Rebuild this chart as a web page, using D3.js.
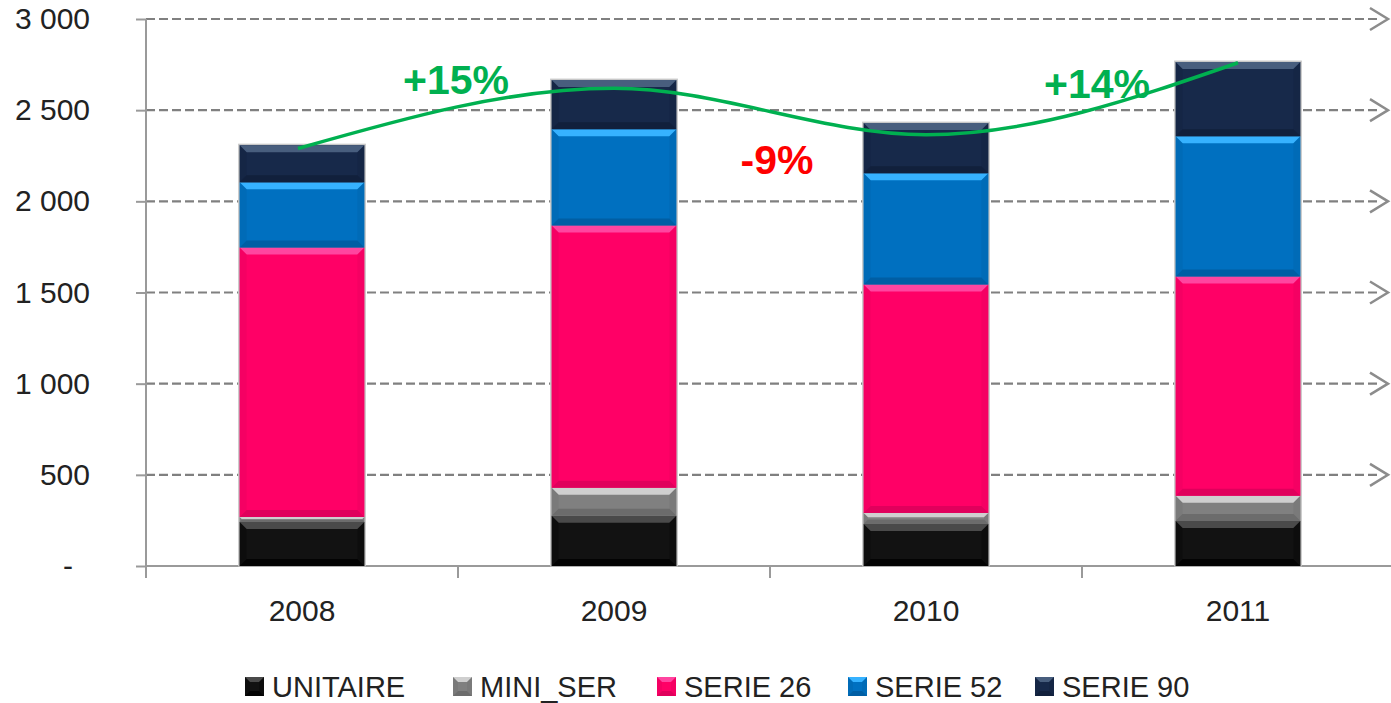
<!DOCTYPE html>
<html>
<head>
<meta charset="utf-8">
<script src="https://cdn.jsdelivr.net/npm/d3@7"></script>
<style>
  html, body { margin: 0; padding: 0; background: #fff; }
  svg { display: block; }
</style>
</head>
<body>
<svg id="chart" width="1391" height="703"></svg>
<script>
// ---- Data ----
const categories = ["2008", "2009", "2010", "2011"];
const seriesNames = ["UNITAIRE", "MINI_SER", "SERIE 26", "SERIE 52", "SERIE 90"];
const unitaire = [242, 275, 231, 247];
const miniSer  = [27, 154, 60, 138];
const serie26  = [1478, 1439, 1253, 1203];
const serie52  = [357, 528, 610, 769];
const serie90  = [204, 269, 275, 407];
const trend    = [2290, 2620, 2365, 2760];
const yTicks   = [0, 500, 1000, 1500, 2000, 2500, 3000];
const growthLabels = ["+15%", "-9%", "+14%"];
const growthLevels = [2590, 2150, 2565];

// ---- Styles ----
const colors = {
  "UNITAIRE": {main: "#121212", light: "#4a4a4a", dark: "#000000"},
  "MINI_SER": {main: "#808080", light: "#cfcfcf", dark: "#666666"},
  "SERIE 26": {main: "#ff0066", light: "#ff45a0", dark: "#d8005a"},
  "SERIE 52": {main: "#0070c0", light: "#36b2ff", dark: "#005a9c"},
  "SERIE 90": {main: "#17294a", light: "#485e7e", dark: "#101e38"}
};

const svg = d3.select("#chart");
const W = 1391, H = 703;

const x = d3.scaleBand().domain(categories).range([146, 1394]).paddingInner(0.6).paddingOuter(0.3);
const xStep = x.step();
const y = d3.scaleLinear().domain([0, 3000]).range([566, 19]);

const rows = categories.map((c, i) => ({
  cat: c,
  "UNITAIRE": unitaire[i], "MINI_SER": miniSer[i], "SERIE 26": serie26[i],
  "SERIE 52": serie52[i], "SERIE 90": serie90[i]
}));
const stacked = d3.stack().keys(seriesNames)(rows);

// ---- Gridlines (dashed with chevron) ----
const gridG = svg.append("g");
const gridEnd = 1378;
yTicks.filter(d => d > 0).forEach(t => {
  const yy = y(t);
  gridG.append("line")
    .attr("x1", x.range()[0]).attr("x2", gridEnd)
    .attr("y1", yy).attr("y2", yy)
    .attr("stroke", "#808080").attr("stroke-width", 2.2)
    .attr("stroke-dasharray", "9,4");
  gridG.append("path")
    .attr("d", `M${gridEnd - 8},${yy - 11} L${gridEnd + 10},${yy} L${gridEnd - 8},${yy + 11}`)
    .attr("fill", "none").attr("stroke", "#8c8c8c").attr("stroke-width", 2.5);
});

// ---- Axes ----
const yAxis = d3.axisLeft(y).tickValues(yTicks).tickSize(10).tickPadding(0)
  .tickFormat(d => d === 0 ? "-" : d3.format(",")(d).replace(/,/g, " "));
const yAx = svg.append("g").attr("transform", `translate(${x.range()[0]},0)`).call(yAxis);
yAx.select(".domain").attr("stroke", "#9a9a9a").attr("stroke-width", 2)
  .attr("d", `M0,${y(3000)}V${y(0)}`);
yAx.selectAll(".tick line").attr("stroke", "#9a9a9a").attr("stroke-width", 2);
yAx.selectAll(".tick text")
  .attr("x", d => d === 0 ? -73 : -56)
  .attr("font-family", "Liberation Sans, Arial, sans-serif")
  .attr("font-size", 30).attr("fill", "#222");

// x axis line
svg.append("line").attr("x1", x.range()[0]).attr("x2", W)
  .attr("y1", y(0)).attr("y2", y(0))
  .attr("stroke", "#9a9a9a").attr("stroke-width", 2);
// x ticks at band boundaries
categories.forEach((c, i) => {
  const bx = x.range()[0] + i * xStep;
  svg.append("line").attr("x1", bx).attr("x2", bx)
    .attr("y1", y(0)).attr("y2", y(0) + 12)
    .attr("stroke", "#9a9a9a").attr("stroke-width", 2);
});
// x labels
svg.append("g").selectAll("text").data(categories).join("text")
  .attr("x", d => x(d) + x.bandwidth() / 2)
  .attr("y", 621)
  .attr("text-anchor", "middle")
  .attr("font-family", "Liberation Sans, Arial, sans-serif")
  .attr("font-size", 30).attr("fill", "#222")
  .text(d => d);

// ---- Bevelled rectangle helper ----
function bevel(g, bx, by, bw, bh, c, b) {
  b = Math.min(b, bh / 2.5);
  g.append("rect").attr("x", bx).attr("y", by).attr("width", bw).attr("height", bh)
    .attr("fill", c.main);
  g.append("path").attr("fill", c.light)
    .attr("d", `M${bx},${by}H${bx + bw}L${bx + bw - b},${by + b}H${bx + b}Z`);
  g.append("path").attr("fill", c.dark).attr("opacity", 0.8)
    .attr("d", `M${bx},${by + bh}H${bx + bw}L${bx + bw - b},${by + bh - b}H${bx + b}Z`);
  g.append("path").attr("fill", c.dark).attr("opacity", 0.25)
    .attr("d", `M${bx},${by}L${bx + b},${by + b}V${by + bh - b}L${bx},${by + bh}Z`);
  g.append("path").attr("fill", c.dark).attr("opacity", 0.25)
    .attr("d", `M${bx + bw},${by}L${bx + bw - b},${by + b}V${by + bh - b}L${bx + bw},${by + bh}Z`);
}

// ---- Bars ----
const barsG = svg.append("g");
// shadow outline
categories.forEach((c, i) => {
  const top = stacked[stacked.length - 1][i][1];
  barsG.append("rect")
    .attr("x", x(c) - 1.5).attr("y", y(top) - 1.5)
    .attr("width", x.bandwidth() + 3).attr("height", y(0) - y(top) + 2)
    .attr("fill", "#c8c8c8");
});
stacked.forEach(layer => {
  const c = colors[layer.key];
  layer.forEach((d, i) => {
    const cat = categories[i];
    const y0 = y(d[0]), y1 = y(d[1]);
    bevel(barsG, x(cat), y1, x.bandwidth(), y0 - y1, c, 7);
  });
});

// ---- Trend line ----
const line = d3.line()
  .x((d, i) => x(categories[i]) + x.bandwidth() / 2 + (i === 0 ? -4 : 0))
  .y(d => y(d))
  .curve(d3.curveMonotoneX);
svg.append("path").datum(trend)
  .attr("d", line)
  .attr("fill", "none").attr("stroke", "#00b050").attr("stroke-width", 3.5);

// ---- Growth labels ----
svg.append("g").selectAll("text").data(growthLabels).join("text")
  .attr("x", (d, i) => (x(categories[i]) + x(categories[i + 1])) / 2 + x.bandwidth() / 2 + (i === 0 ? -2 : i === 1 ? 7 : 15))
  .attr("y", (d, i) => y(growthLevels[i]))
  .attr("text-anchor", "middle")
  .attr("font-family", "Liberation Sans, Arial, sans-serif")
  .attr("font-weight", "bold").attr("font-size", 41)
  .attr("fill", d => d.startsWith("-") ? "#ff0000" : "#00b050")
  .text(d => d);

// ---- Legend ----
const legendX = [245, 453, 657, 848, 1035];
const legG = svg.append("g");
seriesNames.forEach((name, i) => {
  const c = colors[name];
  const g = legG.append("g");
  bevel(g, legendX[i], 677, 19, 19, c, 5);
  g.append("text")
    .attr("x", legendX[i] + 27).attr("y", 697)
    .attr("font-family", "Liberation Sans, Arial, sans-serif")
    .attr("font-size", 29).attr("fill", "#222")
    .text(name);
});
</script>
</body>
</html>
